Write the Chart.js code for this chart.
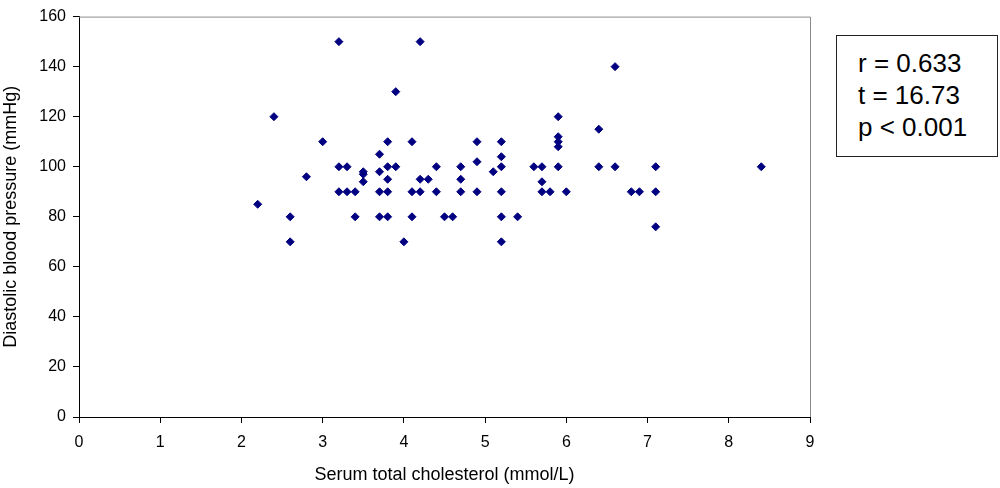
<!DOCTYPE html>
<html>
<head>
<meta charset="utf-8">
<script src="https://cdn.jsdelivr.net/npm/chart.js@4/dist/chart.umd.min.js"></script>
<style>
  html, body { margin: 0; padding: 0; background: #fff; }
  #wrap { position: relative; width: 1000px; height: 488px; }
  #stats {
    position: absolute; left: 836px; top: 35px; width: 162px; height: 122px;
    box-sizing: border-box; border: 1.5px solid #222; background: #fff;
    font-family: "Liberation Sans", Arial, sans-serif; font-size: 26px;
    line-height: 32px; padding: 11px 0 0 21px; color: #000;
  }
</style>
</head>
<body>
<div id="wrap">
  <canvas id="scatterChart" width="1000" height="488"></canvas>
  <div id="stats">r = 0.633<br>t = 16.73<br>p &lt; 0.001</div>
</div>
<script>
const cholesterol = [2.2, 2.4, 2.6, 2.6, 2.8, 3.0, 3.2, 3.2, 3.2, 3.3, 3.3, 3.4, 3.4, 3.5, 3.5, 3.5,
  3.7, 3.7, 3.7, 3.7, 3.8, 3.8, 3.8, 3.8, 3.8, 3.9, 3.9, 4.0, 4.1, 4.1, 4.1, 4.2, 4.2, 4.2, 4.3,
  4.4, 4.4, 4.5, 4.6, 4.7, 4.7, 4.7, 4.9, 4.9, 4.9, 5.1, 5.2, 5.2, 5.2, 5.2, 5.2, 5.2, 5.4, 5.6,
  5.7, 5.7, 5.7, 5.8, 5.9, 5.9, 5.9, 5.9, 5.9, 6.0, 6.4, 6.4, 6.6, 6.6, 6.8, 6.9, 7.1, 7.1, 7.1, 8.4];
const diastolic = [85, 120, 80, 70, 96, 110, 150, 100, 90, 100, 90, 90, 80, 98, 97, 94,
  105, 98, 90, 80, 110, 100, 95, 90, 80, 130, 100, 70, 110, 90, 80, 150, 95, 90, 95,
  100, 90, 80, 80, 100, 95, 90, 110, 102, 90, 98, 110, 104, 100, 90, 80, 70, 80, 100,
  100, 94, 90, 90, 120, 112, 110, 108, 100, 90, 115, 100, 140, 100, 90, 90, 100, 90, 76, 100];

const xTitle = "Serum total cholesterol (mmol/L)";
const yTitle = "Diastolic blood pressure (mmHg)";

const FONT = "'Liberation Sans', Arial, sans-serif";

// gray top/right frame of the plot area
const frame = {
  id: "frame",
  afterDraw(chart) {
    const a = chart.chartArea;
    const c = chart.ctx;
    c.save();
    c.strokeStyle = "#8c8c8c";
    c.lineWidth = 1;
    c.beginPath();
    c.moveTo(a.left, a.top + 0.5);
    c.lineTo(a.right + 0.5, a.top + 0.5);
    c.lineTo(a.right + 0.5, a.bottom);
    c.stroke();
    c.restore();
  },
};

new Chart(document.getElementById("scatterChart").getContext("2d"), {
  type: "scatter",
  data: {
    datasets: [{
      data: cholesterol.map((x, i) => ({ x: x, y: diastolic[i] })),
      pointStyle: "rectRot",
      pointRadius: 4,
      pointHoverRadius: 4,
      backgroundColor: "#000080",
      borderColor: "#000080",
      borderWidth: 1,
    }],
  },
  options: {
    responsive: false,
    animation: false,
    layout: { padding: { left: 0, top: 13, right: 190, bottom: 0 } },
    plugins: { legend: { display: false }, tooltip: { enabled: false } },
    scales: {
      x: {
        type: "linear", min: 0, max: 9,
        afterFit(s) { s.height = 71; },
        ticks: { stepSize: 1, color: "#000", padding: 10, font: { family: FONT, size: 16 } },
        grid: { drawOnChartArea: false, tickLength: 6, color: "#000" },
        border: { color: "#000" },
        title: { display: true, text: xTitle, color: "#000", padding: { top: 4, bottom: 2 }, font: { family: FONT, size: 18 } },
      },
      y: {
        min: 0, max: 160,
        afterFit(s) { s.width = 79; },
        ticks: { stepSize: 20, color: "#000", padding: 7, font: { family: FONT, size: 16 } },
        grid: { drawOnChartArea: false, tickLength: 6, color: "#000" },
        border: { color: "#000" },
        title: { display: true, text: yTitle, color: "#000", padding: { top: 0, bottom: 0 }, font: { family: FONT, size: 18 } },
      },
    },
  },
  plugins: [frame],
});
</script>
</body>
</html>
